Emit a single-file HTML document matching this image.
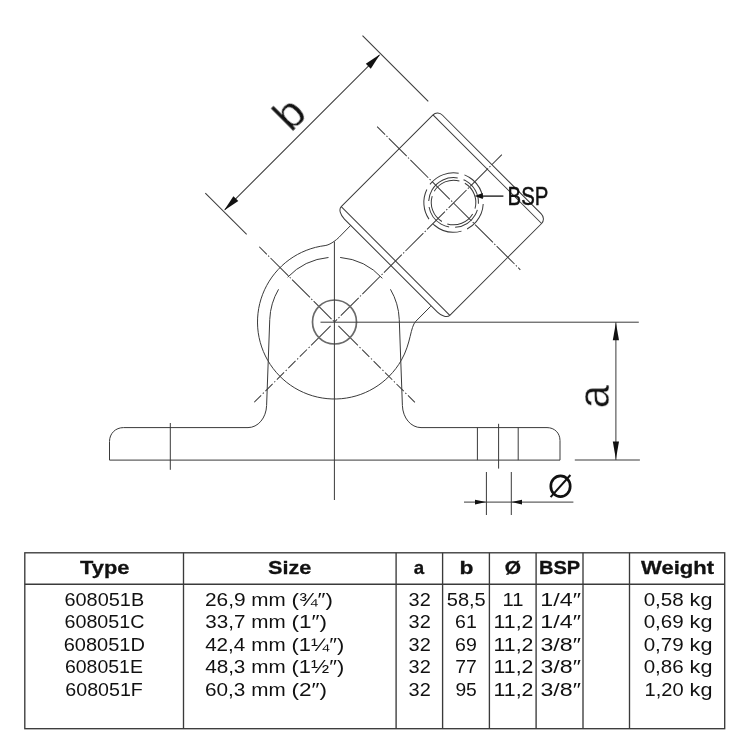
<!DOCTYPE html>
<html><head><meta charset="utf-8"><title>608051</title>
<style>
html,body{margin:0;padding:0;background:#fff;}
body{width:750px;height:750px;overflow:hidden;font-family:"Liberation Sans",sans-serif;}
svg{display:block;}
</style></head><body>
<svg width="750" height="750" viewBox="0 0 750 750">
<rect width="750" height="750" fill="#fff"/>
<g fill="none" stroke="#3a3a3a" stroke-width="1.0" stroke-linecap="butt">
<g transform="translate(334.5,322.0) rotate(-45)" stroke-width="1.0">
<path d="M 86.3 -76.8 C 82.71 -76.8 79.8 -71.88 79.8 -65.8 L 79.8 65.8 C 79.8 71.88 82.71 76.8 86.3 76.8 L 216.1 76.8 C 219.69 76.8 222.6 73.67 222.6 69.8 L 222.6 -69.8 C 222.6 -73.67 219.69 -76.8 216.1 -76.8 L 86.3 -76.8"/>
<line x1="86.3" y1="-76.8" x2="86.3" y2="76.8" />
<line x1="216.1" y1="-76.8" x2="216.1" y2="76.8" />
<line x1="0" y1="-106.4" x2="0" y2="0" stroke-dasharray="25.3 1.9 1.4 1.9" stroke-dashoffset="14.6"/>
<line x1="236.7" y1="0" x2="0" y2="0" stroke-dasharray="25.3 1.9 1.4 1.9" stroke-dashoffset="11"/>
<line x1="0" y1="113.7" x2="0" y2="33.1" stroke-dasharray="10.2 2.3 1.4 2.3" stroke-dashoffset="0.4"/>
<line x1="0" y1="33.1" x2="0" y2="5.5" />
<line x1="-113.5" y1="0" x2="-33.1" y2="0" stroke-dasharray="10.2 2.3 1.4 2.3" stroke-dashoffset="0.4"/>
<line x1="-33.1" y1="0" x2="-5.5" y2="0" />
<line x1="168.3" y1="-108" x2="168.3" y2="94.5" stroke-dasharray="25.3 1.9 1.4 1.9" stroke-dashoffset="14"/>
<line x1="-0.2" y1="-182.5" x2="-0.2" y2="-124" />
<line x1="222.3" y1="-182.7" x2="222.3" y2="-89.7" />
<line x1="2" y1="-157" x2="220.5" y2="-157" />
</g>
<circle cx="453.55" cy="202.5" r="29.7" stroke-dasharray="31 6" transform="rotate(-140 453.55 202.5)"/>
<circle cx="453.55" cy="202.5" r="24.9" stroke-dasharray="30 6" transform="rotate(-150 453.55 202.5)"/>
<circle cx="453.55" cy="202.5" r="22.3" stroke-dasharray="29 6" transform="rotate(-150 453.55 202.5)"/>
<path d="M 350.7 225.4 L 339.2 237.1 C 336.4 239.9 330.08 244.96 325.12 245.57 A 77.0 77.0 0 1 0 401.18 360.50 C 411.18 343.18 410.14 326.96 415.8 321.3 L 430.7 306.3"/>
<path d="M 328.51 257.48 A 64.8 64.8 0 0 0 287.65 277.23"/>
<path d="M 340.15 257.45 A 64.8 64.8 0 0 1 382.35 278.31"/>
<path d="M 278.55 289.31 A 64.8 64.8 0 0 0 269.75 319.40 L 266.6 405.5 C 266.2 418 258 427.6 248 427.6 L 123.5 427.6 C 115.5 427.6 109.5 433.5 109.5 441.5 L 109.5 460.1 L 560 460.1 L 560 440.5 C 560 433 554.5 427.6 547 427.6 L 421 427.6 C 411 427.6 402.8 418 402.4 405.5 L 399.25 319.40 A 64.8 64.8 0 0 0 390.45 289.31"/>
<circle cx="334.5" cy="322.0" r="22" stroke="#6a6a6a" stroke-width="1.7"/>
<line x1="334.4" y1="241.5" x2="334.4" y2="500" />
<line x1="320.5" y1="322.2" x2="638.8" y2="322.2" />
<line x1="170.3" y1="423" x2="170.3" y2="469.8" />
<line x1="477.4" y1="427.6" x2="477.4" y2="460.1" />
<line x1="518.2" y1="427.6" x2="518.2" y2="460.1" />
<line x1="498.6" y1="423.8" x2="498.6" y2="468.6" />
<line x1="615.9" y1="322.2" x2="615.9" y2="460.0" />
<line x1="574.8" y1="460.0" x2="639.9" y2="460.0" />
<line x1="486.4" y1="472" x2="486.4" y2="515" />
<line x1="511.3" y1="472" x2="511.3" y2="515" />
<line x1="464" y1="502.1" x2="573.4" y2="502.1" />
<line x1="480" y1="196.1" x2="503.4" y2="196.1" stroke="#111" stroke-width="1.3"/>
</g>
<g fill="#111" stroke="none">
<polygon points="615.9,322.8 612.8,340.2 619.0,340.2"/>
<polygon points="615.9,459.2 612.8,441.6 619.0,441.6"/>
<polygon points="486.2,502.1 475,499.8 475,504.4"/>
<polygon points="511.5,502.1 522,499.8 522,504.4"/>
<polygon points="474.6,196.1 482.8,193.1 482.8,199.1"/>
<g transform="translate(334.5,322.0) rotate(-45)">
<polygon points="0.8,-157 17.5,-160.5 17.5,-153.5"/>
<polygon points="221.5,-157 204.8,-160.5 204.8,-153.5"/>
</g>
</g>
<g fill="none" stroke="#111" stroke-width="2.7">
<ellipse cx="560.5" cy="486.2" rx="9.7" ry="10.4"/>
<line x1="550.6" y1="497.2" x2="570.4" y2="475" stroke-width="2"/>
</g>
<g font-family="Liberation Sans, sans-serif" fill="#111" opacity="0.999">
<text transform="translate(291.1,133.2) rotate(-45)" font-size="45" stroke="#fff" stroke-width="0.35">b</text>
<text transform="translate(609.07,408.23) rotate(-90) scale(0.9297,1)" font-size="44.5" stroke="#fff" stroke-width="0.35">a</text>
<text transform="translate(507.60,205) scale(0.8000,1)" font-size="25.5" stroke="#111" stroke-width="0.45">BSP</text>
</g>
<g fill="none" stroke="#3a3a3a" stroke-width="1.35">
<rect x="24.8" y="552.8" width="699.9000000000001" height="175.9000000000001"/>
<line x1="24.8" y1="584.2" x2="724.7" y2="584.2" />
<line x1="183.5" y1="552.8" x2="183.5" y2="728.7" />
<line x1="396.1" y1="552.8" x2="396.1" y2="728.7" />
<line x1="442.6" y1="552.8" x2="442.6" y2="728.7" />
<line x1="489.4" y1="552.8" x2="489.4" y2="728.7" />
<line x1="536.1" y1="552.8" x2="536.1" y2="728.7" />
<line x1="583.0" y1="552.8" x2="583.0" y2="728.7" />
<line x1="629.5" y1="552.8" x2="629.5" y2="728.7" />
</g>
<g font-family="Liberation Sans, sans-serif" fill="#111" opacity="0.999">
<text transform="translate(80.11,574.4) scale(1.1476,1)" font-size="19" font-weight="bold" stroke="#111" stroke-width="0.3">Type</text>
<text transform="translate(268.05,574.4) scale(1.1397,1)" font-size="19" font-weight="bold" stroke="#111" stroke-width="0.3">Size</text>
<text transform="translate(413.71,574.4) scale(0.9854,1)" font-size="19" font-weight="bold" stroke="#111" stroke-width="0.3">a</text>
<text transform="translate(459.40,574.4) scale(1.2000,1)" font-size="19" font-weight="bold" stroke="#111" stroke-width="0.3">b</text>
<text transform="translate(504.87,574.4) scale(1.1019,1)" font-size="19" font-weight="bold" stroke="#111" stroke-width="0.3">Ø</text>
<text transform="translate(538.98,574.4) scale(1.0523,1)" font-size="19" font-weight="bold" stroke="#111" stroke-width="0.3">BSP</text>
<text transform="translate(641.00,574.4) scale(1.1602,1)" font-size="19" font-weight="bold" stroke="#111" stroke-width="0.3">Weight</text>
<text transform="translate(64.49,605.8) scale(1.1057,1)" font-size="18">608051B</text>
<text transform="translate(204.94,605.8) scale(1.1609,1)" font-size="18">26,9</text>
<text transform="translate(291.46,605.8) scale(1.2416,1)" font-size="18">(¾″)</text>
<text transform="translate(446.76,605.8) scale(1.1134,1)" font-size="18">58,5</text>
<text transform="translate(502.50,605.8) scale(1.1212,1)" font-size="18">11</text>
<text transform="translate(540.28,605.8) scale(1.2941,1)" font-size="18">1/4″</text>
<text transform="translate(643.64,605.8) scale(1.1433,1)" font-size="18">0,58</text>
<text transform="translate(408.57,605.8) scale(1.1068,1)" font-size="18">32</text>
<text transform="translate(251.16,605.8) scale(1.1491,1)" font-size="18">mm</text>
<text transform="translate(689.60,605.8) scale(1.2000,1)" font-size="18">kg</text>
<text transform="translate(64.51,628.3) scale(1.0947,1)" font-size="18">608051C</text>
<text transform="translate(205.24,628.3) scale(1.1459,1)" font-size="18">33,7</text>
<text transform="translate(291.45,628.3) scale(1.2533,1)" font-size="18">(1″)</text>
<text transform="translate(455.12,628.3) scale(1.0849,1)" font-size="18">61</text>
<text transform="translate(493.52,628.3) scale(1.1841,1)" font-size="18">11,2</text>
<text transform="translate(540.28,628.3) scale(1.2941,1)" font-size="18">1/4″</text>
<text transform="translate(643.64,628.3) scale(1.1433,1)" font-size="18">0,69</text>
<text transform="translate(408.57,628.3) scale(1.1068,1)" font-size="18">32</text>
<text transform="translate(251.16,628.3) scale(1.1491,1)" font-size="18">mm</text>
<text transform="translate(689.60,628.3) scale(1.2000,1)" font-size="18">kg</text>
<text transform="translate(63.69,650.8) scale(1.1116,1)" font-size="18">608051D</text>
<text transform="translate(205.13,650.8) scale(1.1471,1)" font-size="18">42,4</text>
<text transform="translate(291.49,650.8) scale(1.2145,1)" font-size="18">(1¼″)</text>
<text transform="translate(455.12,650.8) scale(1.0849,1)" font-size="18">69</text>
<text transform="translate(493.52,650.8) scale(1.1841,1)" font-size="18">11,2</text>
<text transform="translate(540.43,650.8) scale(1.2893,1)" font-size="18">3/8″</text>
<text transform="translate(643.64,650.8) scale(1.1433,1)" font-size="18">0,79</text>
<text transform="translate(408.57,650.8) scale(1.1068,1)" font-size="18">32</text>
<text transform="translate(251.16,650.8) scale(1.1491,1)" font-size="18">mm</text>
<text transform="translate(689.60,650.8) scale(1.2000,1)" font-size="18">kg</text>
<text transform="translate(64.92,673.3) scale(1.0819,1)" font-size="18">608051E</text>
<text transform="translate(205.13,673.3) scale(1.1496,1)" font-size="18">48,3</text>
<text transform="translate(291.49,673.3) scale(1.2145,1)" font-size="18">(1½″)</text>
<text transform="translate(455.32,673.3) scale(1.0778,1)" font-size="18">77</text>
<text transform="translate(493.52,673.3) scale(1.1841,1)" font-size="18">11,2</text>
<text transform="translate(540.43,673.3) scale(1.2893,1)" font-size="18">3/8″</text>
<text transform="translate(643.64,673.3) scale(1.1433,1)" font-size="18">0,86</text>
<text transform="translate(408.57,673.3) scale(1.1068,1)" font-size="18">32</text>
<text transform="translate(251.16,673.3) scale(1.1491,1)" font-size="18">mm</text>
<text transform="translate(689.60,673.3) scale(1.2000,1)" font-size="18">kg</text>
<text transform="translate(65.31,695.8) scale(1.0917,1)" font-size="18">608051F</text>
<text transform="translate(204.95,695.8) scale(1.1549,1)" font-size="18">60,3</text>
<text transform="translate(291.45,695.8) scale(1.2533,1)" font-size="18">(2″)</text>
<text transform="translate(455.40,695.8) scale(1.0703,1)" font-size="18">95</text>
<text transform="translate(493.52,695.8) scale(1.1841,1)" font-size="18">11,2</text>
<text transform="translate(540.43,695.8) scale(1.2893,1)" font-size="18">3/8″</text>
<text transform="translate(644.61,695.8) scale(1.1152,1)" font-size="18">1,20</text>
<text transform="translate(408.57,695.8) scale(1.1068,1)" font-size="18">32</text>
<text transform="translate(251.16,695.8) scale(1.1491,1)" font-size="18">mm</text>
<text transform="translate(689.60,695.8) scale(1.2000,1)" font-size="18">kg</text>
</g>
</svg>
</body></html>
